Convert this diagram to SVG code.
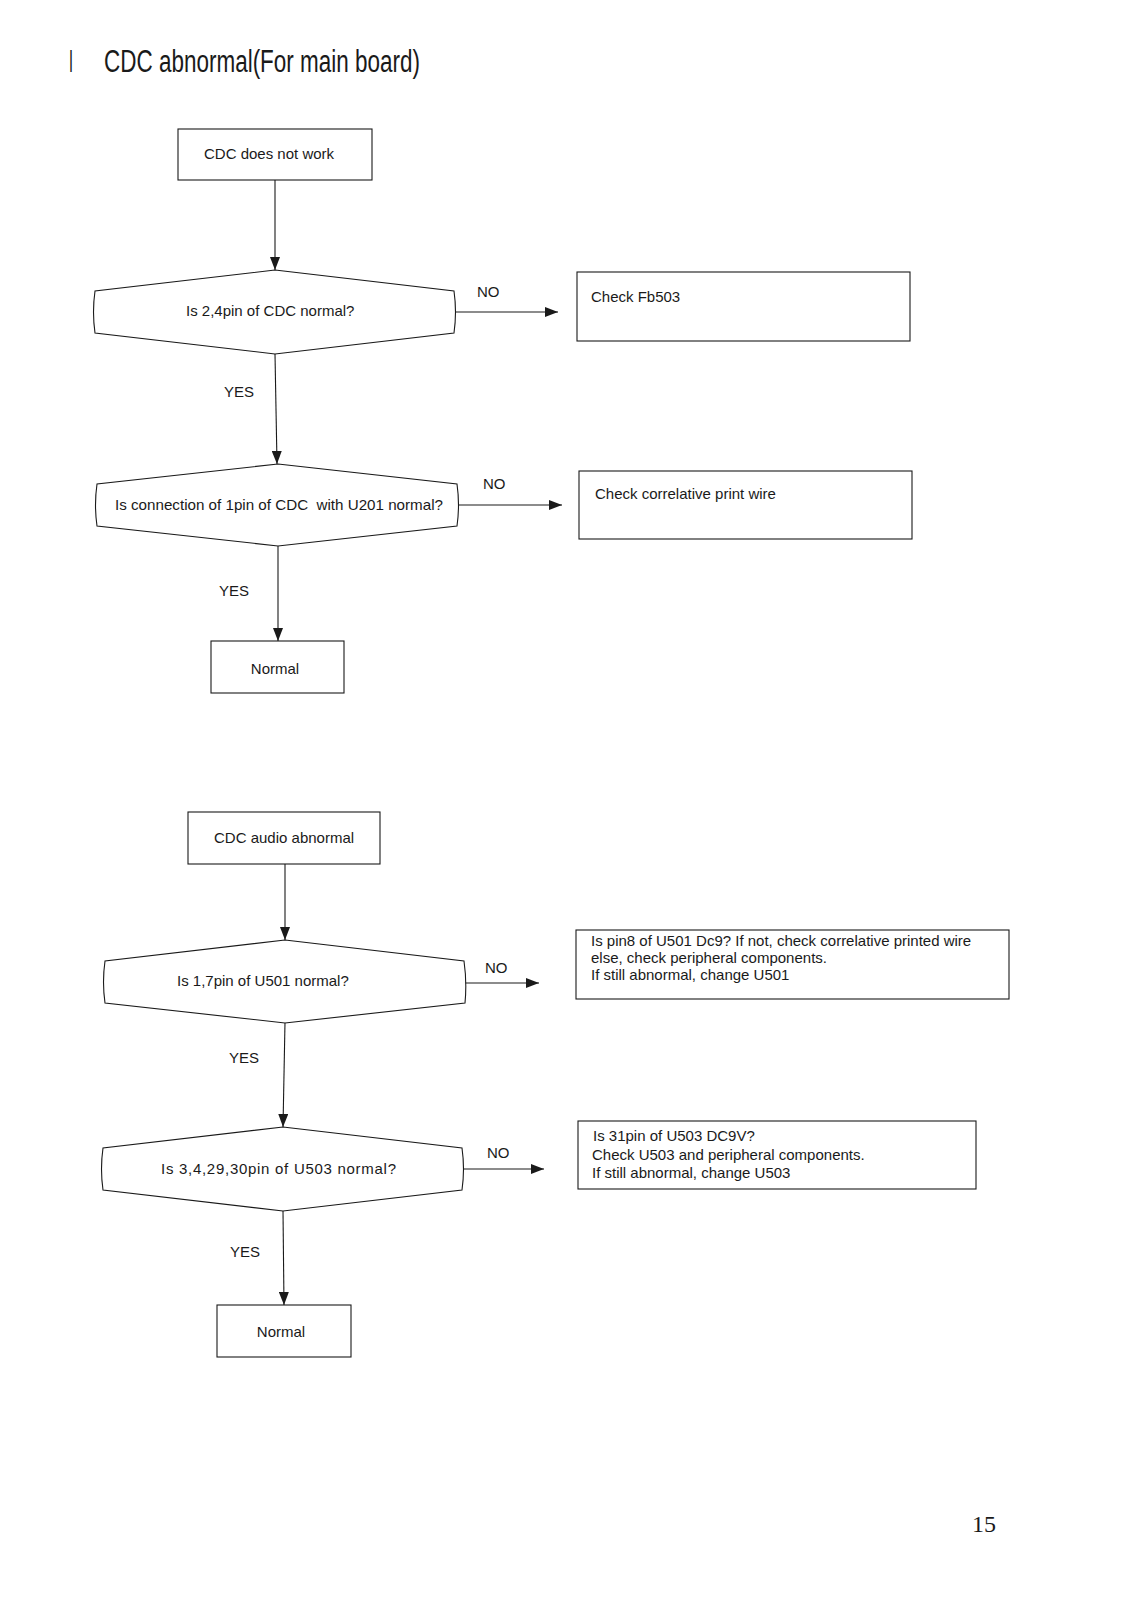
<svg xmlns="http://www.w3.org/2000/svg" width="1133" height="1600" viewBox="0 0 1133 1600">
<defs>
<marker id="arr" viewBox="0 0 13 10" refX="13" refY="5" markerWidth="13" markerHeight="10" markerUnits="userSpaceOnUse" orient="auto">
<path d="M0,0 L13,5 L0,10 Z" fill="#1a1a1a"/>
</marker>
<style>
.box{fill:#fff;stroke:#1a1a1a;stroke-width:1.1}
.dia{fill:#fff;stroke:#1a1a1a;stroke-width:1.1}
.t{font-family:"Liberation Sans",Arial,sans-serif;font-size:15px;fill:#1a1a1a}
.c{text-anchor:middle}
.ln{fill:none;stroke:#1a1a1a;stroke-width:1.1}
.title{font-family:"Liberation Sans",Arial,sans-serif;font-size:31px;fill:#1a1a1a}
</style>
</defs>
<rect width="1133" height="1600" fill="#fff"/>
<text class="title" x="69" y="72" textLength="4" lengthAdjust="spacingAndGlyphs">I</text>
<text class="title" x="104" y="72" textLength="316" lengthAdjust="spacingAndGlyphs">CDC abnormal(For main board)</text>

<g id="connectors">
<line class="ln" x1="275" y1="180" x2="275" y2="270" marker-end="url(#arr)"/>
<line class="ln" x1="454" y1="312" x2="558" y2="312" marker-end="url(#arr)"/>
<line class="ln" x1="275" y1="354" x2="277" y2="464" marker-end="url(#arr)"/>
<line class="ln" x1="457" y1="505" x2="562" y2="505" marker-end="url(#arr)"/>
<line class="ln" x1="278" y1="546" x2="278" y2="641" marker-end="url(#arr)"/>
<line class="ln" x1="285" y1="864" x2="285" y2="940" marker-end="url(#arr)"/>
<line class="ln" x1="464" y1="983" x2="539" y2="983" marker-end="url(#arr)"/>
<line class="ln" x1="285" y1="1022" x2="283" y2="1127" marker-end="url(#arr)"/>
<line class="ln" x1="462" y1="1169" x2="544" y2="1169" marker-end="url(#arr)"/>
<line class="ln" x1="283" y1="1211" x2="284" y2="1305" marker-end="url(#arr)"/>
<text class="t" x="477" y="297">NO</text>
<text class="t" x="224" y="397">YES</text>
<text class="t" x="483" y="489">NO</text>
<text class="t" x="219" y="596">YES</text>
<text class="t" x="485" y="973">NO</text>
<text class="t" x="229" y="1063">YES</text>
<text class="t" x="487" y="1158">NO</text>
<text class="t" x="230" y="1257">YES</text>
</g>

<g id="n1">
<rect class="box" x="178" y="129" width="194" height="51"/>
<text class="t" x="204" y="159">CDC does not work</text>
</g>

<g id="d1">
<path class="dia" d="M275,270 L454,291 Q457,312 454,333 L275,354 L95,333 Q92,312 95,291 Z"/>
<text class="t" x="186" y="316">Is 2,4pin of CDC normal?</text>
</g>

<g id="n2">
<rect class="box" x="577" y="272" width="333" height="69"/>
<text class="t" x="591" y="302">Check Fb503</text>
</g>

<g id="d2">
<path class="dia" d="M278,464 L457,484 Q460,505 457,526 L278,546 L97,526 Q94,505 97,484 Z"/>
<text class="t" x="115" y="510" textLength="328" lengthAdjust="spacingAndGlyphs" xml:space="preserve">Is connection of 1pin of CDC  with U201 normal?</text>
</g>

<g id="n3">
<rect class="box" x="579" y="471" width="333" height="68"/>
<text class="t" x="595" y="499">Check correlative print wire</text>
</g>

<g id="n4">
<rect class="box" x="211" y="641" width="133" height="52"/>
<text class="t c" x="275" y="674">Normal</text>
</g>

<g id="n5">
<rect class="box" x="188" y="812" width="192" height="52"/>
<text class="t" x="214" y="843">CDC audio abnormal</text>
</g>

<g id="d3">
<path class="dia" d="M285,940 L464,961 Q467,982 465,1003 L285,1023 L105,1003 Q102,982 105,961 Z"/>
<text class="t" x="177" y="986">Is 1,7pin of U501 normal?</text>
</g>

<g id="n6">
<rect class="box" x="576" y="930" width="433" height="69"/>
<text class="t" x="591" y="946">Is pin8 of U501 Dc9? If not, check correlative printed wire</text>
<text class="t" x="591" y="963">else, check peripheral components.</text>
<text class="t" x="591" y="980">If still abnormal, change U501</text>
</g>

<g id="d4">
<path class="dia" d="M283,1127 L462,1148 Q465,1169 462,1190 L283,1211 L103,1190 Q100,1169 103,1148 Z"/>
<text class="t" x="161" y="1174" textLength="235" lengthAdjust="spacing">Is 3,4,29,30pin of U503 normal?</text>
</g>

<g id="n7">
<rect class="box" x="578" y="1121" width="398" height="68"/>
<text class="t" x="593" y="1141">Is 31pin of U503 DC9V?</text>
<text class="t" x="592" y="1160">Check U503 and peripheral components.</text>
<text class="t" x="592" y="1178">If still abnormal, change U503</text>
</g>

<g id="n8">
<rect class="box" x="217" y="1305" width="134" height="52"/>
<text class="t c" x="281" y="1337">Normal</text>
</g>

<text x="972" y="1532" style="font-family:'Liberation Serif','Times New Roman',serif;font-size:24px;fill:#1a1a1a">15</text>
</svg>
